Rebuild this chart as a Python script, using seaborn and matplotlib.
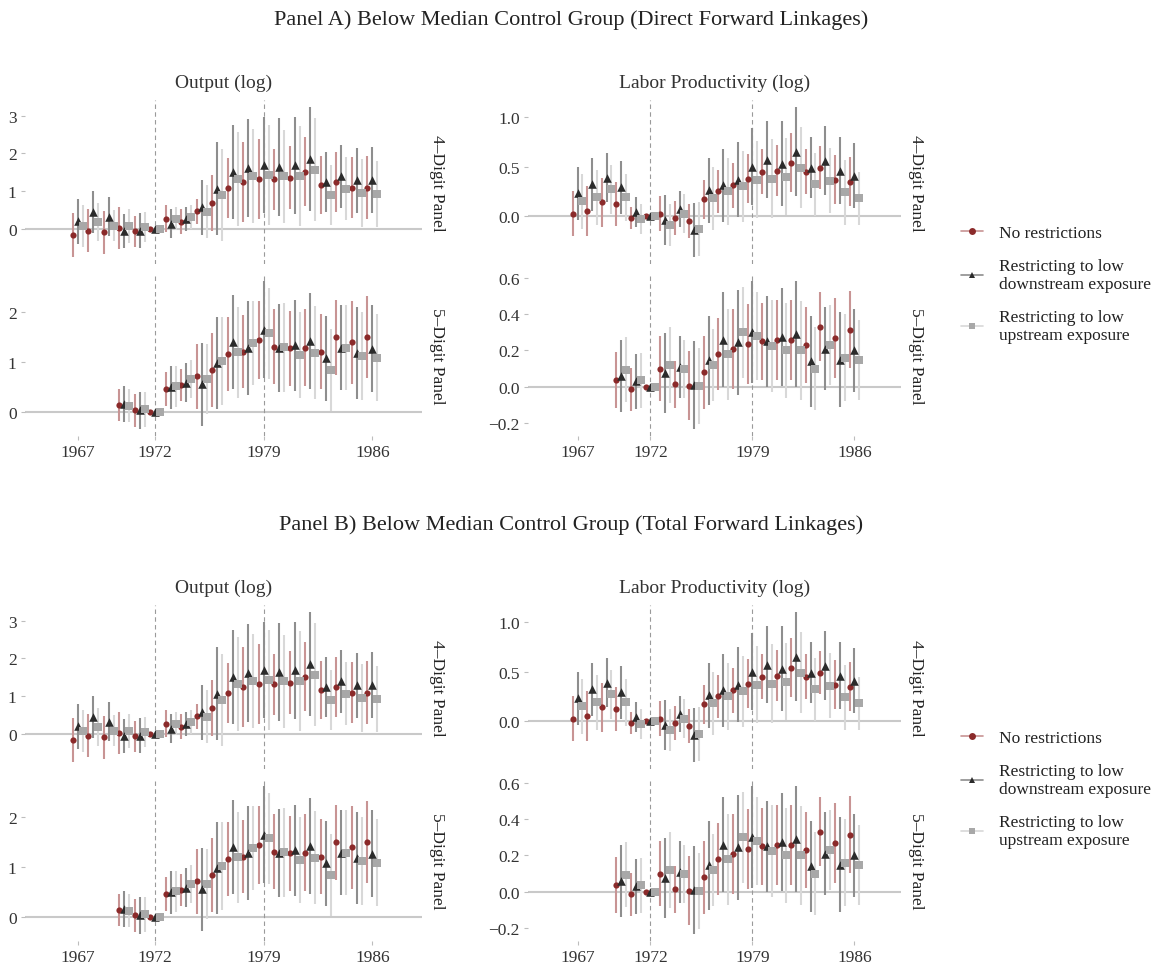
import numpy as np
import pandas as pd
import matplotlib
matplotlib.use("Agg")
import matplotlib.pyplot as plt
import seaborn as sns
from matplotlib.lines import Line2D

sns.set_theme(style="white")
plt.rcParams['font.family'] = ['Liberation Serif', 'DejaVu Serif']
plt.rcParams['axes.unicode_minus'] = True

nan = np.nan
years = list(range(1967, 1987))

# estimates and CI half-widths (1972 = reference year)
# Output (log), 4-digit panel
out4_none = [-0.16, -0.05, -0.09, 0.01, -0.07, 0, 0.26, 0.18, 0.46, 0.68, 1.09, 1.24, 1.31, 1.31, 1.35, 1.51, 1.15, 1.25, 1.09, 1.09]
out4_none_ci = [0.58, 0.56, 0.57, 0.56, 0.41, 0, 0.36, 0.33, 0.33, 0.75, 0.80, 1.06, 1.06, 0.81, 0.84, 0.92, 0.77, 0.80, 0.81, 0.83]
out4_down = [0.20, 0.44, 0.32, -0.06, -0.05, 0, 0.13, 0.26, 0.57, 1.06, 1.50, 1.61, 1.69, 1.64, 1.68, 1.85, 1.24, 1.39, 1.28, 1.30]
out4_down_ci = [0.60, 0.55, 0.52, 0.46, 0.47, 0, 0.38, 0.31, 0.73, 1.23, 1.25, 1.30, 1.27, 1.29, 1.28, 1.37, 0.81, 0.83, 0.86, 0.88]
out4_up = [0.07, 0.17, 0.08, 0.07, 0.04, 0, 0.27, 0.31, 0.45, 0.90, 1.31, 1.41, 1.43, 1.39, 1.40, 1.57, 0.90, 1.06, 0.95, 0.93]
out4_up_ci = [0.55, 0.50, 0.41, 0.46, 0.40, 0, 0.30, 0.31, 0.70, 1.22, 1.25, 1.25, 1.32, 1.24, 1.32, 1.36, 0.79, 0.84, 0.90, 0.88]

# Output (log), 5-digit panel
out5_none = [nan, nan, nan, 0.14, 0.03, 0, 0.46, 0.53, 0.71, 0.84, 1.15, 1.20, 1.44, 1.30, 1.27, 1.28, 1.20, 1.49, 1.39, 1.50]
out5_none_ci = [nan, nan, nan, 0.32, 0.33, 0, 0.34, 0.32, 0.65, 0.74, 0.74, 0.73, 0.78, 0.75, 0.75, 0.77, 0.75, 0.75, 0.83, 0.82]
out5_down = [nan, nan, nan, 0.16, 0.03, 0, 0.49, 0.58, 0.55, 0.97, 1.39, 1.28, 1.64, 1.28, 1.33, 1.41, 1.07, 1.28, 1.17, 1.26]
out5_down_ci = [nan, nan, nan, 0.36, 0.37, 0, 0.43, 0.39, 0.83, 0.92, 0.94, 0.94, 0.97, 0.88, 0.91, 0.96, 0.85, 0.85, 0.92, 0.87]
out5_up = [nan, nan, nan, 0.12, 0.05, 0, 0.51, 0.65, 0.66, 1.01, 1.19, 1.38, 1.57, 1.29, 1.14, 1.18, 0.84, 1.28, 1.11, 1.08]
out5_up_ci = [nan, nan, nan, 0.33, 0.35, 0, 0.41, 0.38, 0.70, 0.88, 0.91, 0.84, 0.91, 0.89, 0.86, 0.93, 0.82, 0.85, 0.88, 0.87]

# Labor productivity (log), 4-digit panel
lp4_none = [0.024, 0.05, 0.14, 0.12, -0.02, 0, 0.024, -0.02, -0.05, 0.17, 0.25, 0.31, 0.38, 0.45, 0.46, 0.54, 0.45, 0.49, 0.37, 0.35]
lp4_none_ci = [0.23, 0.25, 0.25, 0.22, 0.11, 0, 0.18, 0.17, 0.17, 0.20, 0.22, 0.23, 0.25, 0.23, 0.26, 0.30, 0.23, 0.22, 0.25, 0.25]
lp4_down = [0.23, 0.32, 0.39, 0.29, 0.04, 0, -0.04, 0.07, -0.14, 0.26, 0.31, 0.37, 0.50, 0.57, 0.53, 0.65, 0.49, 0.56, 0.46, 0.41]
lp4_down_ci = [0.27, 0.27, 0.25, 0.27, 0.15, 0, 0.25, 0.18, 0.27, 0.33, 0.37, 0.38, 0.39, 0.39, 0.43, 0.45, 0.31, 0.35, 0.34, 0.33]
lp4_up = [0.15, 0.19, 0.27, 0.19, -0.03, 0, -0.09, 0.024, -0.13, 0.18, 0.25, 0.30, 0.37, 0.38, 0.40, 0.49, 0.32, 0.36, 0.24, 0.18]
lp4_up_ci = [0.28, 0.28, 0.25, 0.24, 0.15, 0, 0.21, 0.20, 0.27, 0.32, 0.34, 0.36, 0.39, 0.40, 0.39, 0.41, 0.32, 0.33, 0.33, 0.27]

# Labor productivity (log), 5-digit panel
lp5_none = [nan, nan, nan, 0.036, -0.014, 0, 0.10, 0.014, 0.005, 0.08, 0.18, 0.21, 0.235, 0.25, 0.26, 0.255, 0.23, 0.33, 0.27, 0.315]
lp5_none_ci = [nan, nan, nan, 0.155, 0.12, 0, 0.18, 0.13, 0.19, 0.20, 0.20, 0.22, 0.22, 0.21, 0.22, 0.22, 0.21, 0.19, 0.22, 0.21]
lp5_down = [nan, nan, nan, 0.06, 0.03, 0, 0.076, 0.11, 0.01, 0.145, 0.26, 0.245, 0.30, 0.25, 0.275, 0.29, 0.14, 0.21, 0.15, 0.20]
lp5_down_ci = [nan, nan, nan, 0.20, 0.15, 0, 0.22, 0.17, 0.24, 0.245, 0.26, 0.29, 0.28, 0.25, 0.27, 0.29, 0.25, 0.23, 0.26, 0.23]
lp5_up = [nan, nan, nan, 0.094, 0.036, 0, 0.12, 0.10, 0.004, 0.12, 0.18, 0.30, 0.28, 0.225, 0.20, 0.20, 0.10, 0.23, 0.16, 0.15]
lp5_up_ci = [nan, nan, nan, 0.18, 0.15, 0, 0.21, 0.16, 0.21, 0.20, 0.25, 0.25, 0.24, 0.255, 0.26, 0.27, 0.23, 0.22, 0.24, 0.22]

series_labels = ["No restrictions", "Restricting to low\ndownstream exposure", "Restricting to low\nupstream exposure"]
col_titles = ["Output (log)", "Labor Productivity (log)"]
row_labels = ["4\u2013Digit Panel", "5\u2013Digit Panel"]
panel_titles = ["Panel A) Below Median Control Group (Direct Forward Linkages)",
                "Panel B) Below Median Control Group (Total Forward Linkages)"]
xticks = [1967, 1972, 1979, 1986]
yticks = {("Output (log)", row_labels[0]): [0, 1, 2, 3],
          ("Output (log)", row_labels[1]): [0, 1, 2],
          ("Labor Productivity (log)", row_labels[0]): [0.0, 0.5, 1.0],
          ("Labor Productivity (log)", row_labels[1]): [-0.2, 0.0, 0.2, 0.4, 0.6]}

# long table
raw = {
    ("Output (log)", row_labels[0]): [(out4_none, out4_none_ci), (out4_down, out4_down_ci), (out4_up, out4_up_ci)],
    ("Output (log)", row_labels[1]): [(out5_none, out5_none_ci), (out5_down, out5_down_ci), (out5_up, out5_up_ci)],
    ("Labor Productivity (log)", row_labels[0]): [(lp4_none, lp4_none_ci), (lp4_down, lp4_down_ci), (lp4_up, lp4_up_ci)],
    ("Labor Productivity (log)", row_labels[1]): [(lp5_none, lp5_none_ci), (lp5_down, lp5_down_ci), (lp5_up, lp5_up_ci)],
}
rows = []
for (meas, lev), lst in raw.items():
    for lab, (est, ci) in zip(series_labels, lst):
        for y, e, c in zip(years, est, ci):
            rows.append(dict(measure=meas, level=lev, series=lab, year=y, est=e, ci=c))
df = pd.DataFrame(rows).dropna()

# styling per series
dodge = {series_labels[0]: -0.33, series_labels[1]: 0.0, series_labels[2]: 0.33}
pt_col = {series_labels[0]: "#8b2a2a", series_labels[1]: "#2b2b2b", series_labels[2]: "#a8a8a8"}
ln_col = {series_labels[0]: "#c89494", series_labels[1]: "#8e8e8e", series_labels[2]: "#d8d8d8"}
mark = {series_labels[0]: "o", series_labels[1]: "^", series_labels[2]: "s"}
msize = {series_labels[0]: 20, series_labels[1]: 38, series_labels[2]: 26}

minus_fmt = matplotlib.ticker.FuncFormatter(lambda v, _: f"{v:.1f}".replace("-", "\u2212"))

W, H = 1166, 970
fig = plt.figure(figsize=(W / 100, H / 100), dpi=100)

def px_axes(x0, y0, x1, y1):
    return fig.add_axes([x0 / W, 1 - y1 / H, (x1 - x0) / W, (y1 - y0) / H])

col_x = [(25, 422), (528, 901)]
row_y = [(101, 265), (275, 437)]
txt = "#222222"

for p, ptitle in enumerate(panel_titles):
    off = p * 505
    fig.text(571 / W, 1 - (off + 20) / H, ptitle, ha="center", va="center", fontsize=16, color=txt)
    for c, meas in enumerate(col_titles):
        x0, x1 = col_x[c]
        fig.text((x0 + x1) / 2 / W, 1 - (off + 83) / H, meas, ha="center", va="center", fontsize=14, color="#333333")
        for r, lev in enumerate(row_labels):
            y0, y1 = row_y[r]
            ax = px_axes(x0, y0 + off, x1, y1 + off)
            sub = df[(df.measure == meas) & (df.level == lev)].copy()
            sub["xpos"] = sub.year + sub.series.map(dodge)
            ax.axhline(0, color="#c9c9c9", lw=1.5, zorder=0)
            for v in [1972, 1979]:
                ax.axvline(v, color="#9a9a9a", lw=0.8, ls=(0, (4, 3)), zorder=0)
            for s in series_labels:
                d = sub[sub.series == s]
                ax.vlines(d.xpos, d.est - d.ci, d.est + d.ci, color=ln_col[s], lw=1.5, zorder=1)
            for s in series_labels:
                d = sub[sub.series == s]
                sns.scatterplot(data=d, x="xpos", y="est", ax=ax, color=pt_col[s], marker=mark[s],
                                s=msize[s], linewidth=0, zorder=3, legend=False)
            ax.set_xlim(1963.6, 1989.2)
            ax.margins(y=0.05)
            ax.set_yticks(yticks[(meas, lev)])
            if c == 1:
                ax.yaxis.set_major_formatter(minus_fmt)
            if r == 1:
                ax.set_xticks(xticks)
            else:
                ax.set_xticks([])
            ax.set_xlabel("")
            ax.set_ylabel("")
            sns.despine(ax=ax, left=True, bottom=True)
            ax.tick_params(axis="both", length=3, width=0.8, color="#bdbdbd", labelcolor="#333333",
                           labelsize=12.5, pad=3, left=True, bottom=(r == 1))
            ax.text(1 + 15 / (x1 - x0), 0.5, lev, transform=ax.transAxes, rotation=270,
                    ha="center", va="center", fontsize=12.5, color=txt)

    handles = [Line2D([0], [0], color=ln_col[s], lw=1.2, marker=mark[s], markersize=5,
                      markerfacecolor=pt_col[s], markeredgewidth=0) for s in series_labels]
    fig.legend(handles, series_labels, loc="center left", bbox_to_anchor=(945 / W, 1 - (off + 285) / H),
               frameon=False, fontsize=12.5, handlelength=1.3, handletextpad=0.9, labelspacing=0.95,
               labelcolor=txt)

fig.savefig("out.png", dpi=100)
